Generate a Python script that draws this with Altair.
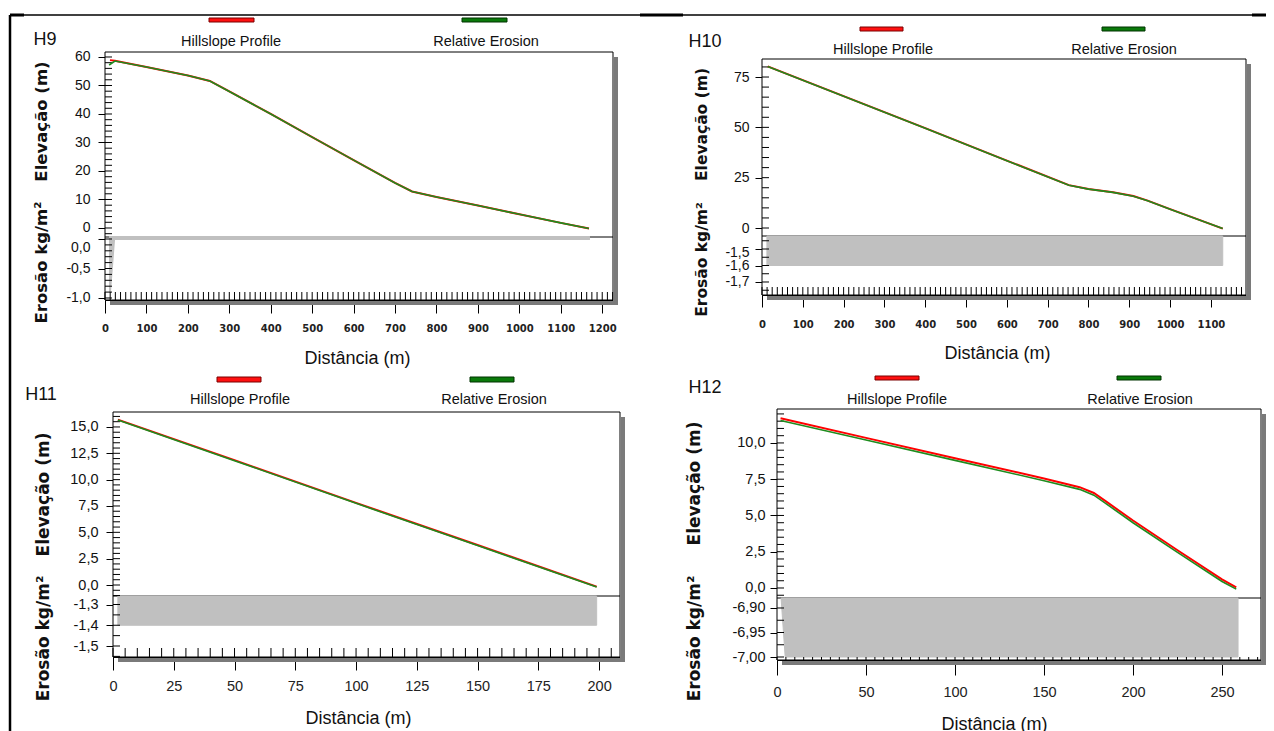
import numpy as np
import pandas as pd
import altair as alt

# ---------------- values ----------------
# H9
H9_RED_D = [12, 24, 100, 200, 253, 300, 400, 500, 600, 700, 741, 800, 900, 1000, 1100, 1168]
H9_RED_E = [58.9, 58.7, 56.5, 53.5, 51.6, 47.9, 40.0, 31.9, 23.8, 15.8, 12.8, 10.9, 7.9, 4.8, 1.8, -0.2]
H9_GRN_D = [10, 24, 100, 200, 253, 300, 400, 500, 600, 700, 741, 800, 900, 1000, 1100, 1168]
H9_GRN_E = [57.2, 58.6, 56.5, 53.5, 51.6, 47.9, 40.0, 31.9, 23.8, 15.8, 12.8, 10.9, 7.9, 4.8, 1.8, -0.2]
H9_ERO_D = [12, 22, 1168]
H9_ERO_V = [-0.9, 0.0, 0.0]

# H10
H10_RED_D = [14, 200, 400, 600, 752, 800, 860, 910, 945, 1000, 1060, 1129]
H10_RED_E = [80.3, 65.5, 49.6, 33.5, 21.3, 19.4, 17.8, 15.9, 13.6, 9.4, 4.9, -0.3]
H10_GRN_D = [14, 200, 400, 600, 752, 800, 860, 910, 945, 1000, 1060, 1129]
H10_GRN_E = [80.2, 65.4, 49.5, 33.4, 21.2, 19.3, 17.7, 15.8, 13.5, 9.3, 4.8, -0.3]
H10_ERO_D = [12, 1129]
H10_ERO_V = [-1.6, -1.6]

# H11
H11_RED_D = [2, 50, 100, 150, 199]
H11_RED_E = [15.7, 11.85, 7.8, 3.8, -0.15]
H11_GRN_D = [2, 50, 100, 150, 199]
H11_GRN_E = [15.65, 11.8, 7.75, 3.75, -0.2]
H11_ERO_D = [2, 199]
H11_ERO_V = [-1.4, -1.4]

# H12
H12_RED_D = [2, 50, 100, 150, 170, 178, 185, 200, 225, 250, 258]
H12_RED_E = [11.7, 10.35, 8.95, 7.55, 6.95, 6.55, 5.95, 4.65, 2.6, 0.6, 0.05]
H12_GRN_D = [2, 50, 100, 150, 170, 178, 185, 200, 225, 250, 258]
H12_GRN_E = [11.55, 10.2, 8.8, 7.4, 6.8, 6.4, 5.8, 4.5, 2.45, 0.45, -0.08]
H12_ERO_D = [2.3, 4.6, 259]
H12_ERO_V = [-6.88, -7.0, -7.0]

# tick labels
H9_XTICKS = list(range(0, 1201, 100))
H9_ETICKS = [0, 10, 20, 30, 40, 50, 60]
H9_RTICKS = [0.0, -0.5, -1.0]
H10_XTICKS = list(range(0, 1101, 100))
H10_ETICKS = [0, 25, 50, 75]
H10_RTICKS = [-1.5, -1.6, -1.7]
H11_XTICKS = [0, 25, 50, 75, 100, 125, 150, 175, 200]
H11_ETICKS = [0.0, 2.5, 5.0, 7.5, 10.0, 12.5, 15.0]
H11_RTICKS = [-1.3, -1.4, -1.5]
H12_XTICKS = [0, 50, 100, 150, 200, 250]
H12_ETICKS = [0.0, 2.5, 5.0, 7.5, 10.0]
H12_RTICKS = [-6.90, -6.95, -7.00]

SERIES = ["Hillslope Profile", "Relative Erosion"]

# ---------------- layout ----------------
W, H = 1258, 723
M = 8


def p(v):
    return v - M


NARROW = "Liberation Sans, Arial, sans-serif"
WIDEB = "DejaVu Sans, Verdana, sans-serif"
BODY = "Liberation Sans, Arial, sans-serif"
ONE = alt.Data(values=[{}])


def lab_expr(dec):
    if dec == 0:
        return "(datum.value < 0 ? '-' : '') + format(abs(datum.value), 'd')"
    return ("(datum.value < 0 ? '-' : '') + replace(format(abs(datum.value), '.%df'), '.', ',')" % dec)


def drect(x1, x2, y1, y2, **kw):
    return alt.Chart(ONE).mark_rect(**kw).encode(
        x=alt.value(p(x1)), x2=alt.value(p(x2)), y=alt.value(p(y1)), y2=alt.value(p(y2)))


def drule(x1, x2, y1, y2, color="black", w=1.0):
    return alt.Chart(ONE).mark_rule(color=color, strokeWidth=w).encode(
        x=alt.value(p(x1)), x2=alt.value(p(x2)), y=alt.value(p(y1)), y2=alt.value(p(y2)))


def dtext(txt, x, y, font, size, weight="normal", color="#111"):
    return alt.Chart(ONE).mark_text(text=txt, font=font, fontSize=size, fontWeight=weight,
                                    color=color, align="center", baseline="middle").encode(
        x=alt.value(p(x)), y=alt.value(p(y)))


def minor(lo, hi, step):
    v = np.arange(np.ceil(lo / step) * step, hi + 1e-9, step)
    return pd.DataFrame({"t": np.round(v, 6)})


def panel(c):
    xL, xR, top, div, bot = c["xL"], c["xR"], c["top"], c["div"], c["bot"]

    def xs():
        return alt.Scale(domain=[0, c["xmax"]], range=[p(xL), p(xR)], nice=False, zero=False)

    def es():
        return alt.Scale(domain=[c["emin"], c["emax"]], range=[p(div), p(top)], nice=False, zero=False)

    def rs():
        return alt.Scale(domain=[c["rmin"], c["rmax"]], range=[p(bot), p(div)], nice=False, zero=False)

    xaxis = alt.Axis(orient="bottom", offset=p(bot) - H, values=c["xticks"], labelExpr=lab_expr(0),
                     tickSize=c["xtick"], labelPadding=c["xpad"], labelFont=c["xfont"],
                     labelFontSize=c["xfs"], labelFontWeight=c["xfw"], labelColor="#222",
                     tickColor="black", domainColor="black", grid=False, labelFlush=False,
                     labelOverlap=False, title="Distância (m)", titleFont=BODY, titleFontSize=18,
                     titleFontWeight="normal", titleColor="#111", titleX=p(c["xt"][0]),
                     titleY=c["xt"][1] - bot, titleAlign="center", titleBaseline="middle")
    eaxis = alt.Axis(orient="left", offset=-p(xL), values=c["eticks"], labelExpr=lab_expr(c["edec"]),
                     tickSize=7, labelPadding=c["ypad"], labelFont=NARROW, labelFontSize=c["yfs"],
                     labelColor="#111", tickColor="black", domainColor="black", grid=False,
                     labelFlush=False, labelOverlap=False, title="Elevação (m)", titleFont=WIDEB,
                     titleFontSize=c["tfs"], titleFontWeight="bold", titleColor="#111", titleAngle=270,
                     titleX=c["ytx"] - xL, titleY=p(c["ety"]), titleAlign="center",
                     titleBaseline="middle")
    raxis = alt.Axis(orient="left", offset=-p(xL), values=c["rticks"], labelExpr=lab_expr(c["rdec"]),
                     tickSize=7, labelPadding=c["ypad"], labelFont=NARROW, labelFontSize=c["yfs"],
                     labelOffset={"condition": {"test": "datum.value == %r" % c["rticks"][0],
                                                "value": c["r0off"]}, "value": 0},
                     labelColor="#111", tickColor="black", domainColor="black", grid=False,
                     labelFlush=False, labelOverlap=False, title="Erosão kg/m²", titleFont=WIDEB,
                     titleFontSize=c["tfs"], titleFontWeight="bold", titleColor="#111", titleAngle=270,
                     titleX=c["ytx"] - xL, titleY=p(c["rty"]), titleAlign="center",
                     titleBaseline="middle")

    layers = []
    # drop shadow and frame
    layers.append(drect(xR + 1, xR + 5, top + 5, bot + 5, color="#7a7a7a"))
    layers.append(drect(xL + 5, xR + 5, bot + 1, bot + 5, color="#7a7a7a"))
    layers.append(drect(xL, xR, top, bot, fill="white", stroke="black", strokeWidth=1))
    layers.append(drule(xL, xR, div, div))

    ero = pd.DataFrame({"d": c["ero_d"], "v": c["ero_v"]})
    layers.append(alt.Chart(ero).mark_area(color="#c0c0c0", stroke="#c0c0c0",
                                           strokeWidth=c["ero_sw"], interpolate="linear").encode(
        x=alt.X("d:Q", scale=xs(), axis=xaxis),
        y=alt.Y("v:Q", scale=rs(), axis=raxis),
        y2=alt.datum(c["rmax"])))

    # inner (minor) ticks
    layers.append(alt.Chart(minor(0, c["xmax"], c["xminor"])).mark_rule(color="black", strokeWidth=1).encode(
        x=alt.X("t:Q", scale=xs(), axis=None),
        y=alt.value(p(bot - c["xmh"])), y2=alt.value(p(bot))))
    layers.append(alt.Chart(minor(c["emin"], c["emax"], c["eminor"])).mark_rule(color="black", strokeWidth=1).encode(
        y=alt.Y("t:Q", scale=es(), axis=None),
        x=alt.value(p(xL)), x2=alt.value(p(xL + 7))))
    layers.append(alt.Chart(minor(c["rmin"], c["rmax"], c["rminor"])).mark_rule(color="black", strokeWidth=1).encode(
        y=alt.Y("t:Q", scale=rs(), axis=None),
        x=alt.value(p(xL)), x2=alt.value(p(xL + 7))))

    red = pd.DataFrame({"d": c["red_d"], "e": c["red_e"], "s": SERIES[0]})
    grn = pd.DataFrame({"d": c["grn_d"], "e": c["grn_e"], "s": SERIES[1]})
    layers.append(alt.Chart(red).mark_line(color="#ff0000", strokeWidth=2).encode(
        x=alt.X("d:Q", scale=xs(), axis=None),
        y=alt.Y("e:Q", scale=es(), axis=eaxis)))
    layers.append(alt.Chart(grn).mark_line(color="#1e8c1e", strokeWidth=1.6).encode(
        x=alt.X("d:Q", scale=xs(), axis=None),
        y=alt.Y("e:Q", scale=es(), axis=None)))

    # panel title and legend
    layers.append(dtext(c["name"], c["nt"][0], c["nt"][1], NARROW, 18, color="#111"))
    r = c["sw_red"]
    g = c["sw_grn"]
    layers.append(drect(r[0], r[1], r[2], r[3], fill="#ff1010", stroke="#7a0000", strokeWidth=1))
    layers.append(drect(g[0], g[1], g[2], g[3], fill="#0a7a0a", stroke="#003300", strokeWidth=1))
    layers.append(dtext(SERIES[0], c["lt_red"][0], c["lt_red"][1], NARROW, 14.5, color="#111"))
    layers.append(dtext(SERIES[1], c["lt_grn"][0], c["lt_grn"][1], NARROW, 14.5, color="#111"))
    return layers


PANELS = [
    dict(name="H9", nt=(45, 40), xL=105, xR=613, top=52, div=237, bot=300,
         xmax=1226, emin=-3.16, emax=61.75, rmin=-1.034, rmax=0.034,
         xticks=H9_XTICKS, eticks=H9_ETICKS, rticks=H9_RTICKS, edec=0, rdec=1, r0off=8,
         xminor=12.5, eminor=2, rminor=0.1, xmh=8,
         xtick=13, xpad=10, xfont=WIDEB, xfs=10, xfw="bold", yfs=14, ypad=8, tfs=16.5,
         xt=(357, 358), ytx=41, ety=121, rty=262,
         red_d=H9_RED_D, red_e=H9_RED_E, grn_d=H9_GRN_D, grn_e=H9_GRN_E,
         ero_d=H9_ERO_D, ero_v=H9_ERO_V, ero_sw=2,
         sw_red=(209, 254, 18, 22), sw_grn=(462, 507, 18, 22),
         lt_red=(231, 42), lt_grn=(486, 42)),
    dict(name="H10", nt=(705, 42), xL=762, xR=1246, top=59, div=236, bot=295,
         xmax=1186, emin=-3.97, emax=83.95, rmin=-1.7788, rmax=-1.4212,
         xticks=H10_XTICKS, eticks=H10_ETICKS, rticks=H10_RTICKS, edec=0, rdec=1, r0off=3,
         xminor=12.5, eminor=5, rminor=0.05, xmh=8,
         xtick=12, xpad=12, xfont=WIDEB, xfs=10, xfw="bold", yfs=14, ypad=6, tfs=15.5,
         xt=(997, 353), ytx=701, ety=124, rty=259,
         red_d=H10_RED_D, red_e=H10_RED_E, grn_d=H10_GRN_D, grn_e=H10_GRN_E,
         ero_d=H10_ERO_D, ero_v=H10_ERO_V, ero_sw=1,
         sw_red=(860, 903, 27, 31), sw_grn=(1102, 1145, 27, 31),
         lt_red=(883, 50), lt_grn=(1124, 50)),
    dict(name="H11", nt=(41, 395), xL=113, xR=620, top=412, div=596, bot=657,
         xmax=208.6, emin=-1.044, emax=16.42, rmin=-1.553, rmax=-1.259,
         xticks=H11_XTICKS, eticks=H11_ETICKS, rticks=H11_RTICKS, edec=1, rdec=1, r0off=0,
         xminor=5, eminor=0.5, rminor=0.05, xmh=9,
         xtick=13, xpad=9, xfont=NARROW, xfs=14.5, xfw="normal", yfs=14.5, ypad=8, tfs=17,
         xt=(358, 718), ytx=43, ety=494, rty=638,
         red_d=H11_RED_D, red_e=H11_RED_E, grn_d=H11_GRN_D, grn_e=H11_GRN_E,
         ero_d=H11_ERO_D, ero_v=H11_ERO_V, ero_sw=1,
         sw_red=(217, 261, 377, 382), sw_grn=(470, 514, 377, 382),
         lt_red=(240, 400), lt_grn=(494, 400)),
    dict(name="H12", nt=(705, 388), xL=777, xR=1261, top=409, div=598, bot=660,
         xmax=271.9, emin=-0.69, emax=12.34, rmin=-7.0061, rmax=-6.8796,
         xticks=H12_XTICKS, eticks=H12_ETICKS, rticks=H12_RTICKS, edec=1, rdec=2, r0off=0,
         xminor=5, eminor=0.5, rminor=0.025, xmh=3,
         xtick=15, xpad=10, xfont=NARROW, xfs=14.5, xfw="normal", yfs=14.5, ypad=5, tfs=17,
         xt=(994, 724), ytx=694, ety=483, rty=638,
         red_d=H12_RED_D, red_e=H12_RED_E, grn_d=H12_GRN_D, grn_e=H12_GRN_E,
         ero_d=H12_ERO_D, ero_v=H12_ERO_V, ero_sw=1,
         sw_red=(875, 919, 376, 380), sw_grn=(1117, 1161, 376, 380),
         lt_red=(897, 400), lt_grn=(1140, 400)),
]

layers = []
# document table borders
layers.append(drule(10, 1274, 15, 15, w=1.5))
layers.append(drule(10, 24, 15, 15, w=3))
layers.append(drule(640, 683, 15, 15, w=3))
layers.append(drule(1252, 1274, 15, 15, w=3))
layers.append(drule(10, 10, 15, 740, w=2.5))
for cfg in PANELS:
    layers += panel(cfg)

chart = alt.layer(*layers).resolve_scale(x="independent", y="independent").properties(
    width=W, height=H, padding=0, autosize=alt.AutoSizeParams(type="none")
).configure_view(stroke="transparent")

chart.save("out.html", embed_options={"renderer": "svg", "actions": False})
